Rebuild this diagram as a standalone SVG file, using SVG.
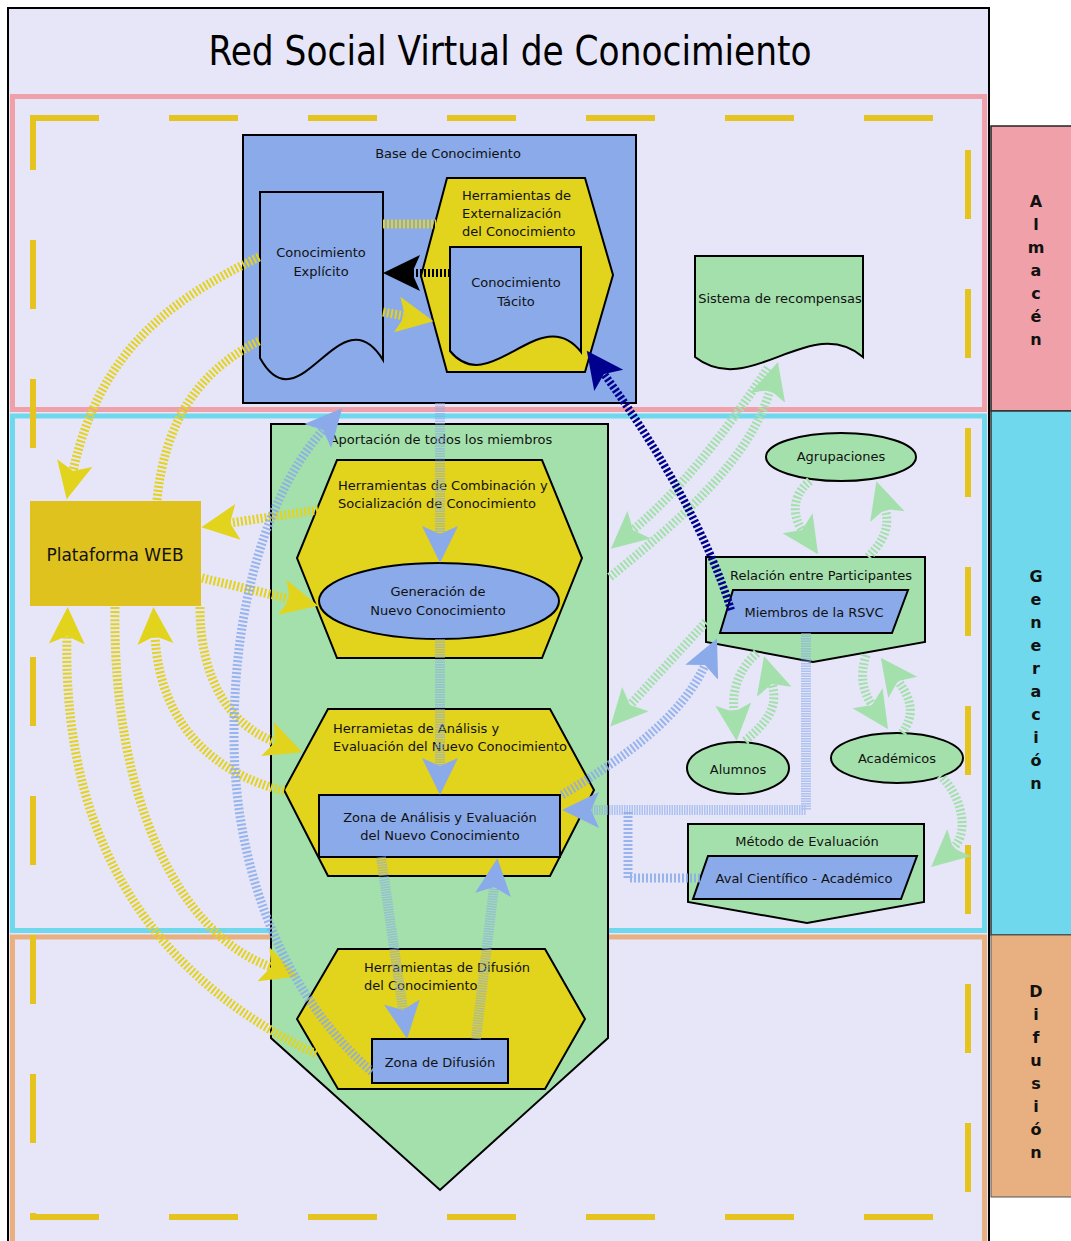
<svg xmlns="http://www.w3.org/2000/svg" width="1071" height="1241" viewBox="0 0 1071 1241">
<defs>
<style>
.t{font-family:"DejaVu Sans","Noto Sans",sans-serif;font-size:13px;fill:#111}
.c{text-anchor:middle}
.lab{font-family:"DejaVu Sans","Noto Sans",sans-serif;font-size:16px;font-weight:bold;fill:#111;text-anchor:middle}
.nb{stroke:#000;stroke-width:2}
.blue{fill:#8aaaea}
.yel{fill:#e2d31d}
.grn{fill:#a4e0ac}
.cy{fill:none;stroke:#e3d21f;stroke-width:9;stroke-dasharray:2 2}
.cb{fill:none;stroke:#8aaaea;stroke-width:9;stroke-dasharray:2 2;stroke-opacity:0.85}
.cbs{fill:none;stroke:#8aaaea;stroke-width:10;stroke-dasharray:1.5 1;stroke-opacity:0.6}
.cg{fill:none;stroke:#a4e0ac;stroke-width:9;stroke-dasharray:2 2}
.cn{fill:none;stroke:#00008e;stroke-width:8;stroke-dasharray:2.5 2}
.ck{fill:none;stroke:#000;stroke-width:8;stroke-dasharray:2 2}
.dash{stroke:#e5c420;stroke-width:6;stroke-dasharray:69 70}
</style>
<marker id="hy" markerUnits="userSpaceOnUse" markerWidth="40" markerHeight="40" viewBox="0 0 40 40" refX="8" refY="20" orient="auto"><path d="M0,2 L37,20 L0,38 L8,20 Z" fill="#e2d31d"/></marker>
<marker id="hb" markerUnits="userSpaceOnUse" markerWidth="40" markerHeight="40" viewBox="0 0 40 40" refX="8" refY="20" orient="auto"><path d="M0,2 L37,20 L0,38 L8,20 Z" fill="#8aaaea"/></marker>
<marker id="hg" markerUnits="userSpaceOnUse" markerWidth="40" markerHeight="40" viewBox="0 0 40 40" refX="8" refY="20" orient="auto"><path d="M0,2 L37,20 L0,38 L8,20 Z" fill="#a4e0ac"/></marker>
<marker id="hn" markerUnits="userSpaceOnUse" markerWidth="40" markerHeight="40" viewBox="0 0 40 40" refX="8" refY="20" orient="auto"><path d="M0,2 L37,20 L0,38 L8,20 Z" fill="#00008e"/></marker>
<marker id="hk" markerUnits="userSpaceOnUse" markerWidth="40" markerHeight="40" viewBox="0 0 40 40" refX="8" refY="20" orient="auto"><path d="M0,2 L37,20 L0,38 L8,20 Z" fill="#000"/></marker>
</defs>
<rect width="1071" height="1241" fill="#fff"/>
<g id="frame">
<rect x="8" y="8" width="981" height="1245" fill="#e6e6f8" stroke="#000" stroke-width="2"/>
<text x="510" y="65" font-family="'DejaVu Sans Condensed','DejaVu Sans',sans-serif" font-stretch="condensed" font-size="40" fill="#000" text-anchor="middle" textLength="603" lengthAdjust="spacingAndGlyphs">Red Social Virtual de Conocimiento</text>
</g>
<g id="lanes">
<rect x="12.5" y="96.5" width="972" height="313" fill="#e6e6f8" stroke="#f0a0a8" stroke-width="5"/>
<rect x="12.5" y="416" width="972" height="514.5" fill="#e6e6f8" stroke="#70d8ec" stroke-width="5"/>
<rect x="12.5" y="937" width="972" height="320" fill="#e6e6f8" stroke="#e8b080" stroke-width="5"/>
<line class="dash" x1="30" y1="118" x2="968" y2="118"/>
<line class="dash" x1="30" y1="1217" x2="968" y2="1217"/>
<line class="dash" x1="33" y1="115" x2="33" y2="1220" stroke-dashoffset="14"/>
<line class="dash" x1="968" y1="115" x2="968" y2="1220" stroke-dashoffset="104"/>
</g>
<g id="lane-labels">
<rect x="991" y="126" width="90" height="285" fill="#f0a0a8" stroke="#222" stroke-width="1.5"/>
<rect x="991" y="411" width="90" height="524" fill="#70d8ec" stroke="#333" stroke-width="1.5"/>
<rect x="991" y="935" width="90" height="262" fill="#e8b080" stroke="#555" stroke-width="1"/>
<text class="lab"><tspan x="1036" y="207">A</tspan><tspan x="1036" dy="23">l</tspan><tspan x="1036" dy="23">m</tspan><tspan x="1036" dy="23">a</tspan><tspan x="1036" dy="23">c</tspan><tspan x="1036" dy="23">é</tspan><tspan x="1036" dy="23">n</tspan></text>
<text class="lab"><tspan x="1036" y="582">G</tspan><tspan x="1036" dy="23">e</tspan><tspan x="1036" dy="23">n</tspan><tspan x="1036" dy="23">e</tspan><tspan x="1036" dy="23">r</tspan><tspan x="1036" dy="23">a</tspan><tspan x="1036" dy="23">c</tspan><tspan x="1036" dy="23">i</tspan><tspan x="1036" dy="23">ó</tspan><tspan x="1036" dy="23">n</tspan></text>
<text class="lab"><tspan x="1036" y="997">D</tspan><tspan x="1036" dy="23">i</tspan><tspan x="1036" dy="23">f</tspan><tspan x="1036" dy="23">u</tspan><tspan x="1036" dy="23">s</tspan><tspan x="1036" dy="23">i</tspan><tspan x="1036" dy="23">ó</tspan><tspan x="1036" dy="23">n</tspan></text>
</g>
<g id="base-conocimiento">
<rect x="243" y="135" width="393" height="268" class="blue nb"/>
<text class="t c" x="448" y="158">Base de Conocimiento</text>
</g>
<g id="conocimiento-explicito">
<path d="M260,192 H383 V360 C340,290 300,430 260,358 Z" class="blue nb"/>
<text class="t c" x="321" y="257">Conocimiento</text>
<text class="t c" x="321" y="276">Explícito</text>
</g>
<g id="herr-externalizacion">
<polygon points="447,178 585,178 613,275 585,372 447,372 421,276" class="yel nb"/>
<text class="t" x="462" y="200">Herramientas de</text>
<text class="t" x="462" y="218">Externalización</text>
<text class="t" x="462" y="236">del Conocimiento</text>
</g>
<g id="conocimiento-tacito">
<path d="M450,247 H581 V352 C540,300 490,400 450,351 Z" class="blue nb"/>
<text class="t c" x="516" y="287">Conocimiento</text>
<text class="t c" x="516" y="306">Tácito</text>
</g>
<g id="sistema-recompensas">
<path d="M695,256 H863 V357 C810,312 750,400 695,357 Z" class="grn nb"/>
<text class="t c" x="780" y="303">Sistema de recompensas</text>
</g>
<g id="aportacion">
<path d="M271,424 H608 V1038 L440,1190 L271,1038 Z" class="grn nb"/>
<text class="t c" x="441" y="444">Aportación de todos los miembros</text>
</g>
<g id="herr-combinacion">
<polygon points="337,460 542,460 582,558 542,658 337,658 297,558" class="yel nb"/>
<text class="t" x="338" y="490">Herramientas de Combinación y</text>
<text class="t" x="338" y="508">Socialización de Conocimiento</text>
</g>
<g id="generacion">
<ellipse cx="439" cy="601" rx="120" ry="38" class="blue nb"/>
<text class="t c" x="438" y="596">Generación de</text>
<text class="t c" x="438" y="615">Nuevo Conocimiento</text>
</g>
<g id="herr-analisis">
<polygon points="328,709 550,709 594,790 550,876 328,876 284,790" class="yel nb"/>
<text class="t" x="333" y="733">Herramietas de Análisis y</text>
<text class="t" x="333" y="751">Evaluación del Nuevo Conocimiento</text>
</g>
<g id="zona-analisis">
<rect x="319" y="795" width="241" height="62" class="blue nb"/>
<text class="t c" x="440" y="822">Zona de Análisis y Evaluación</text>
<text class="t c" x="440" y="840">del Nuevo Conocimiento</text>
</g>
<g id="herr-difusion">
<polygon points="338,949 545,949 585,1019 545,1089 338,1089 297,1019" class="yel nb"/>
<text class="t" x="364" y="972">Herramientas de Difusión</text>
<text class="t" x="364" y="990">del Conocimiento</text>
</g>
<g id="zona-difusion">
<rect x="372" y="1039" width="136" height="44" class="blue nb"/>
<text class="t c" x="440" y="1067">Zona de Difusión</text>
</g>
<g id="plataforma-web">
<rect x="30" y="501" width="171" height="105" fill="#e0c21f"/>
<text x="115" y="561" font-family="'DejaVu Sans',sans-serif" font-size="17" fill="#111" text-anchor="middle">Plataforma WEB</text>
</g>
<g id="agrupaciones">
<ellipse cx="841" cy="457" rx="75" ry="24" class="grn nb"/>
<text class="t c" x="841" y="461">Agrupaciones</text>
</g>
<g id="relacion">
<path d="M706,557 H925 V642 L813,662 L706,642 Z" class="grn nb"/>
<text class="t c" x="821" y="580">Relación entre Participantes</text>
</g>
<g id="miembros">
<polygon points="733,590 908,590 892,633 720,633" class="blue nb"/>
<text class="t c" x="814" y="617">Miembros de la RSVC</text>
</g>
<g id="alumnos">
<ellipse cx="738" cy="768" rx="51" ry="26" class="grn nb"/>
<text class="t c" x="738" y="774">Alumnos</text>
</g>
<g id="academicos">
<ellipse cx="897" cy="758" rx="66" ry="25" class="grn nb"/>
<text class="t c" x="897" y="763">Académicos</text>
</g>
<g id="metodo">
<path d="M688,824 H924 V902 L807,923 L688,902 Z" class="grn nb"/>
<text class="t c" x="807" y="846">Método de Evaluación</text>
</g>
<g id="aval">
<polygon points="708,856 917,856 901,899 693,899" class="blue nb"/>
<text class="t c" x="804" y="883">Aval Científico - Académico</text>
</g>
<g id="connectors">
<path class="cy" d="M383,224 L436,224"/>
<path class="cy" d="M383,312 L405,316" marker-end="url(#hy)"/>
<path class="cy" d="M259,257 C170,300 100,350 73,471" marker-end="url(#hy)"/>
<path class="cy" d="M157,500 C165,420 200,370 259,341"/>
<path class="cy" d="M318,510 L230,523" marker-end="url(#hy)"/>
<path class="cy" d="M202,578 L290,599" marker-end="url(#hy)"/>
<path class="cy" d="M200,607 C200,680 230,725 275,742" marker-end="url(#hy)"/>
<path class="cy" d="M284,791 C220,775 160,730 155,636" marker-end="url(#hy)"/>
<path class="cy" d="M115,607 C112,800 180,935 271,967" marker-end="url(#hy)"/>
<path class="cy" d="M316,1054 C170,985 62,860 67,636" marker-end="url(#hy)"/>
<path class="ck" d="M450,273 L412,273" marker-end="url(#hk)"/>
<path class="cbs" d="M440,403 L440,534" marker-end="url(#hb)"/>
<path class="cbs" d="M440,639 L440,766" marker-end="url(#hb)"/>
<path class="cbs" d="M381,857 L403,1010" marker-end="url(#hb)"/>
<path class="cbs" d="M476,1039 L494,887" marker-end="url(#hb)"/>
<path class="cb" d="M372,1072 C290,1000 235,880 234,740 C233,600 270,490 323,430" marker-end="url(#hb)"/>
<path class="cb" d="M562,795 C620,760 680,720 705,665" marker-end="url(#hb)"/>
<path class="cbs" d="M806,633 L806,810 L591,810" marker-end="url(#hb)"/>
<path class="cb" d="M700,878 L628,878 L628,812" stroke-opacity="0.7"/>
<path class="cg" d="M610,577 C680,520 750,460 770,390" marker-end="url(#hg)"/>
<path class="cg" d="M768,368 C720,440 680,490 633,530" marker-end="url(#hg)"/>
<path class="cg" d="M706,622 L630,705" marker-end="url(#hg)"/>
<path class="cg" d="M810,481 C792,495 792,515 802,530" marker-end="url(#hg)"/>
<path class="cg" d="M868,557 C885,540 890,525 885,509" marker-end="url(#hg)"/>
<path class="cg" d="M757,653 C738,670 732,690 734,712" marker-end="url(#hg)"/>
<path class="cg" d="M745,741 C770,720 778,705 772,684" marker-end="url(#hg)"/>
<path class="cg" d="M866,655 C860,675 862,690 872,705" marker-end="url(#hg)"/>
<path class="cg" d="M902,733 C915,715 912,700 898,681" marker-end="url(#hg)"/>
<path class="cg" d="M940,775 C965,800 968,835 953,848" marker-end="url(#hg)"/>
<path class="cn" d="M731,610 C710,540 660,450 604,374" marker-end="url(#hn)"/>
</g>
</svg>
